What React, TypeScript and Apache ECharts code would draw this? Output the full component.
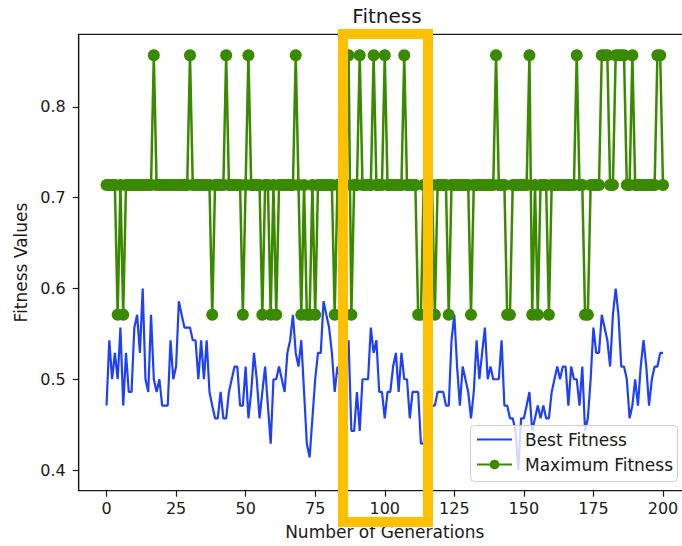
import React, { useEffect, useRef } from "react";
import * as echarts from "echarts";

// x tick labels and y tick labels
const xTicks = [0, 25, 50, 75, 100, 125, 150, 175, 200];
const yTicks = [0.4, 0.5, 0.6, 0.7, 0.8];

// Best Fitness, one value per generation 0..200
const bestFitness = [
  0.471, 0.543, 0.5, 0.529, 0.5, 0.557, 0.471, 0.529, 0.486, 0.486,
  0.557, 0.571, 0.529, 0.6, 0.5, 0.486, 0.571, 0.5, 0.486, 0.5,
  0.471, 0.471, 0.471, 0.543, 0.5, 0.514, 0.586, 0.571, 0.557, 0.557,
  0.557, 0.543, 0.543, 0.5, 0.543, 0.5, 0.543, 0.486, 0.471, 0.457,
  0.457, 0.486, 0.457, 0.457, 0.486, 0.5, 0.514, 0.514, 0.471, 0.471,
  0.514, 0.457, 0.486, 0.529, 0.5, 0.457, 0.486, 0.514, 0.471, 0.429,
  0.5, 0.5, 0.514, 0.5, 0.486, 0.529, 0.543, 0.571, 0.529, 0.514,
  0.543, 0.486, 0.429, 0.414, 0.457, 0.5, 0.529, 0.529, 0.586, 0.571,
  0.557, 0.529, 0.486, 0.514, 0.5, 0.514, 0.529, 0.543, 0.443, 0.443,
  0.486, 0.443, 0.5, 0.5, 0.5, 0.557, 0.529, 0.543, 0.486, 0.486,
  0.457, 0.486, 0.486, 0.514, 0.529, 0.486, 0.529, 0.5, 0.5, 0.457,
  0.486, 0.486, 0.486, 0.429, 0.429, 0.471, 0.486, 0.471, 0.471, 0.486,
  0.486, 0.486, 0.471, 0.471, 0.543, 0.571, 0.514, 0.471, 0.514, 0.5,
  0.486, 0.457, 0.486, 0.543, 0.5, 0.529, 0.557, 0.5, 0.514, 0.5,
  0.5, 0.5, 0.543, 0.471, 0.471, 0.457, 0.457, 0.443, 0.4, 0.457,
  0.457, 0.471, 0.486, 0.443, 0.457, 0.471, 0.457, 0.471, 0.457, 0.457,
  0.486, 0.5, 0.514, 0.5, 0.514, 0.514, 0.471, 0.514, 0.5, 0.5,
  0.471, 0.514, 0.443, 0.457, 0.5, 0.557, 0.529, 0.529, 0.571, 0.557,
  0.543, 0.514, 0.571, 0.6, 0.571, 0.514, 0.514, 0.5, 0.457, 0.471,
  0.5, 0.471, 0.514, 0.543, 0.514, 0.471, 0.5, 0.514, 0.514, 0.529,
  0.529,
];

// Maximum Fitness, one value per generation 0..200
const maxFitness = [
  0.714, 0.714, 0.714, 0.714, 0.571, 0.714, 0.571, 0.714, 0.714, 0.714,
  0.714, 0.714, 0.714, 0.714, 0.714, 0.714, 0.714, 0.857, 0.714, 0.714,
  0.714, 0.714, 0.714, 0.714, 0.714, 0.714, 0.714, 0.714, 0.714, 0.714,
  0.857, 0.714, 0.714, 0.714, 0.714, 0.714, 0.714, 0.714, 0.571, 0.714,
  0.714, 0.714, 0.714, 0.857, 0.714, 0.714, 0.714, 0.714, 0.714, 0.571,
  0.714, 0.857, 0.714, 0.714, 0.714, 0.714, 0.571, 0.714, 0.714, 0.571,
  0.714, 0.571, 0.714, 0.714, 0.714, 0.714, 0.714, 0.714, 0.857, 0.714,
  0.571, 0.714, 0.571, 0.571, 0.714, 0.571, 0.714, 0.714, 0.714, 0.714,
  0.714, 0.714, 0.571, 0.714, 0.714, 0.714, 0.714, 0.857, 0.571, 0.714,
  0.714, 0.857, 0.714, 0.714, 0.714, 0.714, 0.857, 0.714, 0.714, 0.714,
  0.857, 0.714, 0.714, 0.714, 0.714, 0.714, 0.714, 0.857, 0.714, 0.714,
  0.714, 0.714, 0.571, 0.571, 0.714, 0.714, 0.714, 0.714, 0.571, 0.714,
  0.714, 0.714, 0.714, 0.571, 0.714, 0.714, 0.714, 0.714, 0.714, 0.714,
  0.714, 0.571, 0.714, 0.714, 0.714, 0.714, 0.714, 0.714, 0.714, 0.714,
  0.857, 0.714, 0.714, 0.714, 0.571, 0.571, 0.714, 0.714, 0.714, 0.714,
  0.714, 0.714, 0.857, 0.571, 0.714, 0.571, 0.714, 0.714, 0.714, 0.571,
  0.714, 0.714, 0.714, 0.714, 0.714, 0.714, 0.714, 0.714, 0.714, 0.857,
  0.714, 0.714, 0.571, 0.571, 0.714, 0.714, 0.714, 0.714, 0.857, 0.857,
  0.857, 0.714, 0.714, 0.857, 0.857, 0.857, 0.857, 0.714, 0.714, 0.857,
  0.714, 0.714, 0.714, 0.714, 0.714, 0.714, 0.714, 0.714, 0.857, 0.857,
  0.714,
];

const FONT = "DejaVu Sans";
const INK = "#1a1a1a";

export default function App() {
  const ref = useRef<HTMLDivElement>(null);

  useEffect(() => {
    if (!ref.current) return;
    const chart = echarts.init(ref.current, undefined, { renderer: "svg" });

    chart.setOption({
      animation: false,
      backgroundColor: "#ffffff",
      grid: {
        left: 78.7,
        top: 34.3,
        width: 612.1,
        height: 456.4,
        show: true,
        borderColor: INK,
        borderWidth: 1.2,
        backgroundColor: "transparent",
        containLabel: false,
        outerBoundsMode: "none",
      },
      xAxis: {
        type: "value",
        min: -10,
        max: 210,
        name: "Number of Generations",
        nameLocation: "middle",
        nameGap: 33,
        nameTextStyle: { fontFamily: FONT, fontSize: 17, color: INK },
        splitLine: { show: false },
        axisLine: { show: true, onZero: false, lineStyle: { color: INK, width: 1.2 } },
        axisTick: { show: true, length: 6, customValues: xTicks, lineStyle: { color: INK, width: 1.2 } },
        axisLabel: {
          customValues: xTicks,
          margin: 10,
          fontFamily: FONT,
          fontSize: 16,
          color: INK,
        },
      },
      yAxis: {
        type: "value",
        min: 0.3772,
        max: 0.8801,
        name: "Fitness Values",
        nameLocation: "middle",
        nameGap: 46,
        nameTextStyle: { fontFamily: FONT, fontSize: 17, color: INK },
        splitLine: { show: false },
        axisLine: { show: true, onZero: false, lineStyle: { color: INK, width: 1.2 } },
        axisTick: { show: true, length: 6, customValues: yTicks, lineStyle: { color: INK, width: 1.2 } },
        axisLabel: {
          customValues: yTicks,
          margin: 13,
          fontFamily: FONT,
          fontSize: 16,
          color: INK,
          formatter: (v: number) => v.toFixed(1),
        },
      },
      legend: {
        orient: "vertical",
        left: 470,
        top: 425,
        z: 10,
        data: [
          { name: "Best Fitness", itemStyle: { opacity: 0 } },
          { name: "Maximum Fitness" },
        ],
        itemWidth: 35,
        itemHeight: 12,
        itemGap: 8,
        padding: [6, 4, 8, 6],
        backgroundColor: "transparent",
        textStyle: { fontFamily: FONT, fontSize: 17, color: INK, padding: [0, 0, 0, 8] },
      },
      series: [
        {
          name: "Best Fitness",
          type: "line",
          data: bestFitness.map((v, i) => [i, v]),
          symbol: "none",
          lineStyle: { color: "#1f3fff", width: 2.2 },
          itemStyle: { color: "#1f3fff" },
          z: 2,
        },
        {
          name: "Maximum Fitness",
          type: "line",
          data: maxFitness.map((v, i) => [i, v]),
          symbol: "circle",
          symbolSize: 12,
          showAllSymbol: true,
          lineStyle: { color: "#3a8a00", width: 2.5 },
          itemStyle: { color: "#3a8a00" },
          z: 3,
        },
      ],
      graphic: [
        {
          type: "rect",
          z: 5,
          shape: { x: 470.5, y: 425.5, width: 207, height: 56, r: 4 },
          style: { fill: "rgba(255,255,255,0.8)", stroke: "#cccccc", lineWidth: 1 },
        },
        {
          type: "text",
          x: 387,
          y: 16,
          z: 50,
          style: {
            text: "Fitness",
            fontFamily: FONT,
            fontSize: 20,
            fill: INK,
            textAlign: "center",
            textVerticalAlign: "middle",
          },
        },
        {
          type: "rect",
          z: 100,
          shape: { x: 343, y: 34, width: 85, height: 488 },
          style: { fill: "none", stroke: "#FFC000", lineWidth: 10 },
        },
      ],
    });

    return () => chart.dispose();
  }, []);

  return (
    <div
      ref={ref}
      style={{ position: "fixed", left: 0, top: 0, width: 682, height: 546, overflow: "hidden" }}
    />
  );
}
